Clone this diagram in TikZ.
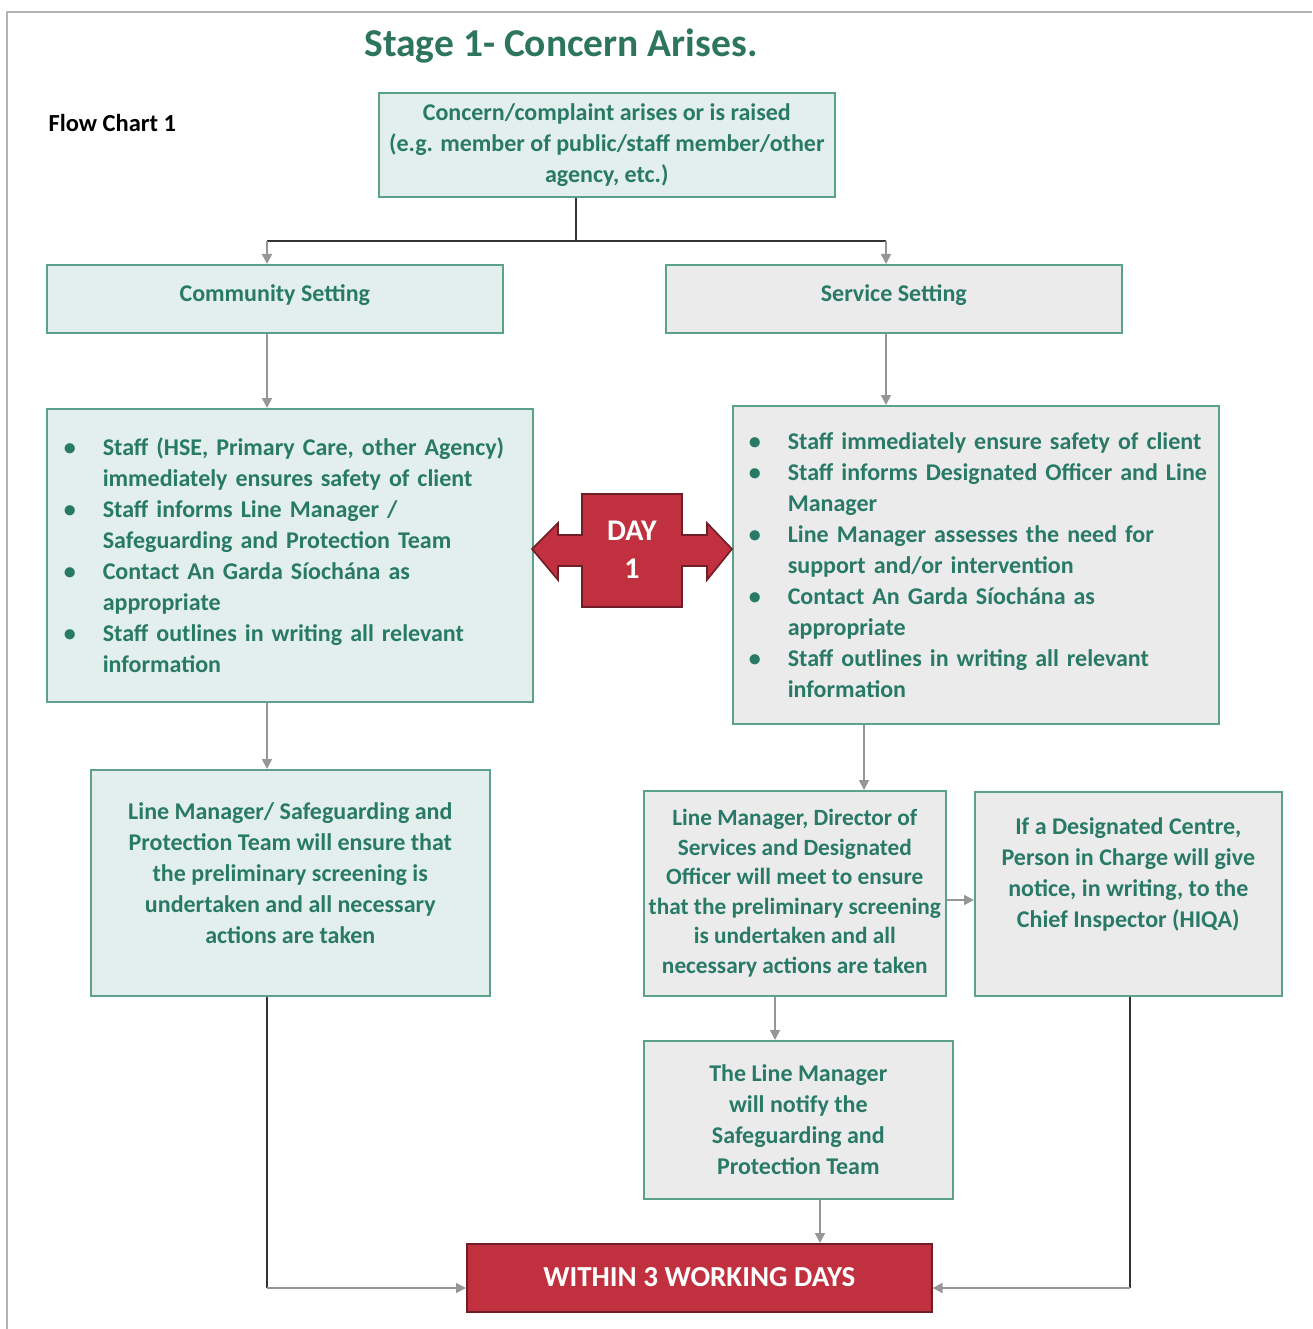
\documentclass[tikz,border=0pt]{standalone}
\usepackage{fontspec}
\setmainfont{Carlito}
\usetikzlibrary{arrows.meta}
\definecolor{tg}{RGB}{40,122,102}
\definecolor{tl}{RGB}{46,117,96}
\definecolor{mint}{RGB}{226,239,236}
\definecolor{gbox}{RGB}{235,235,235}
\definecolor{bord}{RGB}{92,160,142}
\definecolor{redb}{RGB}{192,48,62}
\definecolor{redd}{RGB}{110,30,38}
\definecolor{arr}{RGB}{150,150,150}
\definecolor{frame}{RGB}{180,180,180}
\newcommand{\bl}[1]{\mbox{\makebox[39pt][l]{\textbullet}#1}}
\newcommand{\cl}[1]{\mbox{\hspace*{39pt}#1}}
\begin{document}
\begin{tikzpicture}[x=1pt,y=-1pt,
  box/.style={draw=bord, line width=1.6pt, text=tg, align=center, inner sep=0pt, anchor=north west,
    font=\bfseries\fontsize{24}{31}\selectfont},
  mintbox/.style={box, fill=mint},
  graybox/.style={box, fill=gbox},
  redbox/.style={draw=redd, line width=1.6pt, fill=redb, text=white, anchor=north west, inner sep=0pt,
    font=\bfseries\fontsize{29}{34}\selectfont},
  conn/.style={draw=arr, line width=1.6pt, -{Triangle[length=10pt,width=10pt]}},
  dark/.style={draw=black!80, line width=1.6pt},
]
\useasboundingbox (0,0) rectangle (1312,1329);
\draw[frame, line width=2.5pt] (7,1329) -- (7,12) -- (1312,12);

\node[text=tl, font=\bfseries\fontsize{39.5}{44}\selectfont] (title) at (561,46) {Stage 1- Concern Arises.};
\node[anchor=west, font=\bfseries\fontsize{24.5}{28}\selectfont] (fc) at (45,123) {Flow Chart 1};

\node[mintbox, minimum width=456, minimum height=104] (top) at (378,92)
  {Concern/complaint arises or is raised\\(e.g. member of public/staff member/other\\agency, etc.)};

\node[mintbox, minimum width=456, minimum height=68] (comm) at (46,264) {\raisebox{11pt}{Community Setting}};
\node[graybox, minimum width=456, minimum height=68] (serv) at (665,264) {\raisebox{11pt}{Service Setting}};

\node[mintbox, minimum width=486, minimum height=293, align=left, text width=452, inner xsep=17] (lb) at (46,408)
  {\bl{Staff (HSE, Primary Care, other Agency)}\\
   \cl{immediately ensures safety of client}\\
   \bl{Staff informs Line Manager /}\\
   \cl{Safeguarding and Protection Team}\\
   \bl{Contact An Garda Síochána as}\\
   \cl{appropriate}\\
   \bl{Staff outlines in writing all relevant}\\
   \cl{information}};

\node[graybox, minimum width=486, minimum height=318, align=left, text width=454, inner xsep=16] (rb) at (732,405)
  {\bl{Staff immediately ensure safety of client}\\
   \bl{Staff informs Designated Officer and Line}\\
   \cl{Manager}\\
   \bl{Line Manager assesses the need for}\\
   \cl{support and/or intervention}\\
   \bl{Contact An Garda Síochána as}\\
   \cl{appropriate}\\
   \bl{Staff outlines in writing all relevant}\\
   \cl{information}};

% DAY 1 double arrow
\draw[draw=redd, line width=1.6pt, fill=redb]
  (532,549) -- (558,523) -- (558,535) -- (582,535) -- (582,494) -- (682,494) -- (682,535)
  -- (707,535) -- (707,523) -- (732,549) -- (707,580) -- (707,566) -- (682,566) -- (682,607)
  -- (582,607) -- (582,566) -- (558,566) -- (558,580) -- cycle;
\node[text=white, align=center, font=\bfseries\fontsize{30}{38}\selectfont] (day) at (632,550) {DAY\\1};

\node[mintbox, minimum width=399, minimum height=226] (lm) at (90,769)
  {Line Manager/ Safeguarding and\\Protection Team will ensure that\\the preliminary screening is\\undertaken and all necessary\\actions are taken\\[-12pt]\mbox{}};

\node[graybox, minimum width=302, minimum height=205, font=\bfseries\fontsize{23.3}{29.5}\selectfont] (mid) at (643,790)
  {Line Manager, Director of\\Services and Designated\\Officer will meet to ensure\\that the preliminary screening\\is undertaken and all\\necessary actions are taken};

\node[graybox, minimum width=307, minimum height=204] (dc) at (974,791)
  {If a Designated Centre,\\Person in Charge will give\\notice, in writing, to the\\Chief Inspector (HIQA)\\[11pt]\mbox{}};

\node[graybox, minimum width=309, minimum height=158] (nt) at (643,1040)
  {The Line Manager\\will notify the\\Safeguarding and\\Protection Team};

\node[redbox, minimum width=465, minimum height=68] (wd) at (466,1243) {\raisebox{2pt}{WITHIN 3 WORKING DAYS}};

% connectors
\coordinate (j) at (576,241);
\coordinate (jl) at (267,241);
\coordinate (jr) at (886,241);
\draw[dark] (top.south -| j) -- (j);
\draw[dark] (jl) -- (jr);
\draw[conn] (jl) -- (comm.north -| jl);
\draw[conn] (jr) -- (serv.north -| jr);

\coordinate (cx) at (267,0);
\coordinate (sx) at (886,0);
\coordinate (rx) at (864,0);
\draw[conn] (comm.south -| cx) -- (lb.north -| cx);
\draw[conn] (serv.south -| sx) -- (rb.north -| sx);
\draw[conn] (lb.south -| cx) -- (lm.north -| cx);
\draw[conn] (rb.south -| rx) -- (mid.north -| rx);

\coordinate (my) at (0,900);
\draw[conn] (mid.east |- my) -- (dc.west |- my);

\coordinate (mx) at (775,0);
\draw[conn] (mid.south -| mx) -- (nt.north -| mx);
\coordinate (nx) at (820,0);
\draw[conn] (nt.south -| nx) -- (wd.north -| nx);

\coordinate (el) at (267,1288);
\coordinate (er) at (1130,1288);
\draw[dark] (lm.south -| el) -- (el);
\draw[conn] (el) -- (wd.west |- el);
\draw[dark] (dc.south -| er) -- (er);
\draw[conn] (er) -- (wd.east |- er);
\end{tikzpicture}
\end{document}
